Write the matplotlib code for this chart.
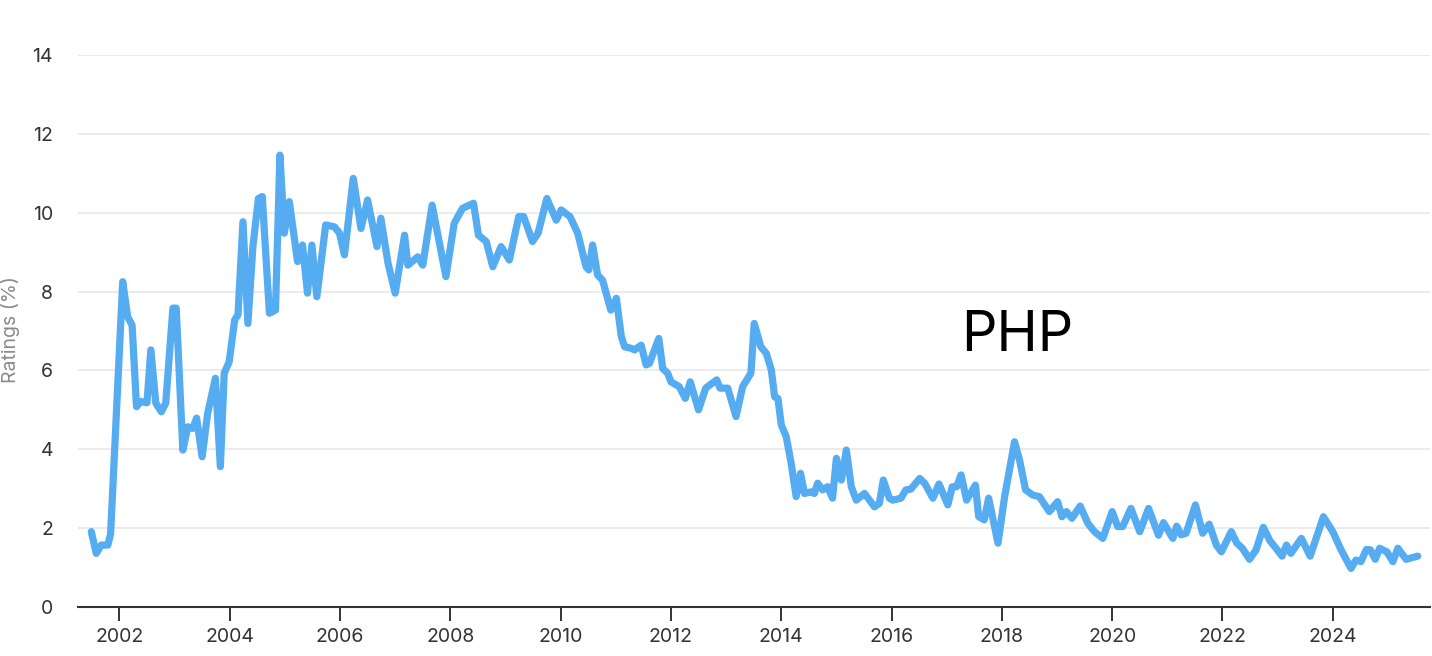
import matplotlib
matplotlib.use("Agg")
import matplotlib.pyplot as plt

plt.rcParams['font.family'] = ['Inter', 'DejaVu Sans']

# Decimal-year positions and ratings (%)
years = [
    2001.49, 2001.58, 2001.67, 2001.79, 2001.84, 2002.06, 2002.15, 2002.23, 2002.31, 2002.39,
    2002.50, 2002.57, 2002.66, 2002.76, 2002.84, 2002.97, 2003.03, 2003.15, 2003.24, 2003.33,
    2003.40, 2003.50, 2003.60, 2003.74, 2003.83, 2003.90, 2003.99, 2004.09, 2004.15, 2004.24,
    2004.33, 2004.42, 2004.52, 2004.59, 2004.72, 2004.83, 2004.91, 2004.99, 2005.08, 2005.23,
    2005.32, 2005.41, 2005.49, 2005.58, 2005.74, 2005.90, 2005.99, 2006.08, 2006.24, 2006.38,
    2006.50, 2006.67, 2006.74, 2006.87, 2007.00, 2007.17, 2007.23, 2007.41, 2007.50, 2007.67,
    2007.92, 2008.07, 2008.22, 2008.42, 2008.51, 2008.65, 2008.77, 2008.92, 2009.07, 2009.24,
    2009.33, 2009.49, 2009.59, 2009.75, 2009.92, 2010.01, 2010.17, 2010.31, 2010.46, 2010.51,
    2010.58, 2010.67, 2010.76, 2010.91, 2011.01, 2011.10, 2011.16, 2011.28, 2011.34, 2011.46,
    2011.55, 2011.61, 2011.78, 2011.85, 2011.94, 2012.00, 2012.15, 2012.26, 2012.35, 2012.50,
    2012.63, 2012.83, 2012.89, 2013.03, 2013.18, 2013.30, 2013.45, 2013.51, 2013.63, 2013.73,
    2013.82, 2013.88, 2013.94, 2014.00, 2014.09, 2014.18, 2014.27, 2014.35, 2014.42, 2014.54,
    2014.60, 2014.66, 2014.75, 2014.84, 2014.93, 2015.00, 2015.09, 2015.18, 2015.27, 2015.36,
    2015.51, 2015.69, 2015.78, 2015.85, 2015.96, 2016.02, 2016.17, 2016.26, 2016.35, 2016.51,
    2016.60, 2016.75, 2016.86, 2017.02, 2017.10, 2017.18, 2017.26, 2017.36, 2017.52, 2017.58,
    2017.68, 2017.76, 2017.93, 2018.05, 2018.23, 2018.32, 2018.43, 2018.56, 2018.68, 2018.86,
    2019.01, 2019.09, 2019.17, 2019.27, 2019.42, 2019.56, 2019.68, 2019.83, 2020.00, 2020.10,
    2020.19, 2020.34, 2020.50, 2020.66, 2020.84, 2020.93, 2021.10, 2021.17, 2021.25, 2021.34,
    2021.51, 2021.64, 2021.76, 2021.89, 2021.98, 2022.16, 2022.26, 2022.36, 2022.49, 2022.61,
    2022.74, 2022.86, 2022.97, 2023.08, 2023.16, 2023.24, 2023.43, 2023.59, 2023.83, 2024.00,
    2024.15, 2024.33, 2024.42, 2024.51, 2024.61, 2024.68, 2024.77, 2024.85, 2024.98, 2025.09,
    2025.18, 2025.33, 2025.54,
]
ratings = [
    1.91, 1.36, 1.57, 1.57, 1.85, 8.25, 7.36, 7.15, 5.08, 5.21,
    5.18, 6.52, 5.17, 4.95, 5.17, 7.58, 7.58, 3.98, 4.57, 4.53,
    4.79, 3.81, 4.91, 5.80, 3.56, 5.93, 6.22, 7.28, 7.41, 9.77,
    7.19, 9.14, 10.36, 10.41, 7.45, 7.53, 11.46, 9.48, 10.28, 8.76,
    9.18, 7.96, 9.18, 7.87, 9.69, 9.64, 9.48, 8.93, 10.87, 9.60,
    10.32, 9.14, 9.86, 8.72, 7.96, 9.43, 8.67, 8.88, 8.67, 10.19,
    8.38, 9.73, 10.11, 10.24, 9.43, 9.27, 8.63, 9.14, 8.80, 9.90,
    9.90, 9.27, 9.48, 10.36, 9.81, 10.07, 9.90, 9.48, 8.63, 8.55,
    9.18, 8.42, 8.29, 7.53, 7.83, 6.86, 6.60, 6.56, 6.52, 6.64,
    6.14, 6.18, 6.81, 6.05, 5.93, 5.71, 5.59, 5.29, 5.71, 5.00,
    5.55, 5.76, 5.55, 5.55, 4.83, 5.59, 5.93, 7.19, 6.60, 6.43,
    6.01, 5.33, 5.29, 4.62, 4.32, 3.64, 2.80, 3.39, 2.88, 2.92,
    2.88, 3.14, 2.97, 3.05, 2.76, 3.77, 3.22, 3.98, 3.05, 2.71,
    2.88, 2.54, 2.63, 3.22, 2.76, 2.71, 2.76, 2.97, 2.99, 3.26,
    3.14, 2.76, 3.12, 2.59, 3.05, 3.05, 3.35, 2.71, 3.09, 2.29,
    2.21, 2.76, 1.62, 2.80, 4.19, 3.73, 2.97, 2.84, 2.80, 2.42,
    2.67, 2.29, 2.42, 2.25, 2.56, 2.12, 1.91, 1.74, 2.42, 2.04,
    2.04, 2.50, 1.91, 2.50, 1.82, 2.14, 1.74, 2.05, 1.83, 1.87,
    2.59, 1.87, 2.10, 1.57, 1.40, 1.91, 1.62, 1.49, 1.21, 1.45,
    2.02, 1.68, 1.49, 1.29, 1.57, 1.36, 1.74, 1.29, 2.29, 1.91,
    1.45, 0.98, 1.19, 1.15, 1.46, 1.45, 1.21, 1.49, 1.40, 1.15,
    1.49, 1.21, 1.29,
]

x_ticks = list(range(2002, 2026, 2))
y_ticks = list(range(0, 15, 2))
series_name = "PHP"
y_title = "Ratings (%)"

fig = plt.figure(figsize=(14.32, 6.56), dpi=100)
ax = fig.add_axes([0.0545, 0.0747, 0.944, 0.8415])

ax.plot(years, ratings, color="#55acf0", linewidth=5.2,
        solid_joinstyle="round", solid_capstyle="round", clip_on=False, zorder=3)

ax.set_xlim(2001.25, 2025.76)
ax.set_ylim(0, 14)
ax.set_xticks(x_ticks)
ax.set_yticks(y_ticks)
ax.set_xticklabels([str(t) for t in x_ticks])
ax.set_yticklabels([str(t) for t in y_ticks])

ax.grid(axis="y", color="#e6e6e6", linewidth=1.1, zorder=0)
ax.grid(axis="x", visible=False)
for s in ("top", "right", "left"):
    ax.spines[s].set_visible(False)
ax.spines["bottom"].set_color("#333333")
ax.spines["bottom"].set_linewidth(1.5)

ax.tick_params(axis="x", length=10, width=1.4, color="#333333",
               labelsize=14, labelcolor="#333333", pad=5)
ax.tick_params(axis="y", length=0, labelsize=14, labelcolor="#333333", pad=18)

fig.text(11 / 1432, 1 - 330 / 656, y_title, rotation=90, fontsize=14,
         color="#8a8a8a", ha="center", va="center")

ax.text(2018.28, 6.88, series_name, fontsize=40, color="black",
        ha="center", va="center")

fig.savefig("out.png", dpi=100, facecolor="white")
